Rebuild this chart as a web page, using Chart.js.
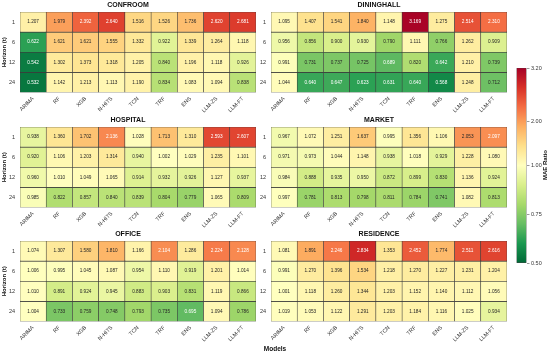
<!DOCTYPE html>
<html>
<head>
<meta charset="utf-8">
<script src="https://cdn.jsdelivr.net/npm/chart.js@4.4.1/dist/chart.umd.min.js"></script>
<style>
  body { margin: 0; background: #fff; width: 550px; height: 354px; position: relative; overflow: hidden;
         font-family: "Liberation Sans", Arial, sans-serif; }
  canvas { position: absolute; }
  .lbl { position: absolute; font-weight: bold; color: #111; white-space: nowrap; }
</style>
</head>
<body>
<canvas id="confroom" width="276" height="114" style="left:0;top:0"></canvas>
<canvas id="dininghall" width="276" height="114" style="left:251px;top:0"></canvas>
<canvas id="hospital" width="276" height="114" style="left:0;top:115px"></canvas>
<canvas id="market" width="276" height="114" style="left:251px;top:115px"></canvas>
<canvas id="office" width="276" height="114" style="left:0;top:229px"></canvas>
<canvas id="residence" width="276" height="114" style="left:251px;top:229px"></canvas>
<canvas id="cbar" width="39" height="212" style="left:511px;top:60px"></canvas>
<div class="lbl" style="left:275px;top:348px;font-size:6.5px;transform:translate(-50%,-50%)">Models</div>
<div class="lbl" style="left:545px;top:165px;font-size:6px;transform:translate(-50%,-50%) rotate(-90deg)">MAE Ratio</div>

<script>
const FONT = '"Liberation Sans", Arial, sans-serif';

const models = ["ARIMA", "RF", "XGB", "N-HiTS", "TCN", "TRF", "ENS", "LLM-ZS", "LLM-FT"];
const horizons = ["1", "6", "12", "24"];

// rows = horizons 1, 6, 12, 24
const confroom = [
    [1.207, 1.979, 2.392, 2.640, 1.516, 1.526, 1.736, 2.620, 2.681],
    [0.622, 1.621, 1.621, 1.555, 1.332, 0.922, 1.339, 1.264, 1.118],
    [0.542, 1.302, 1.373, 1.318, 1.205, 0.840, 1.196, 1.118, 0.926],
    [0.532, 1.142, 1.213, 1.113, 1.190, 0.834, 1.083, 1.094, 0.838]
];
const dininghall = [
    [1.095, 1.407, 1.541, 1.840, 1.148, 3.169, 1.275, 2.514, 2.310],
    [0.956, 0.856, 0.900, 0.930, 0.790, 1.111, 0.766, 1.262, 0.909],
    [0.991, 0.731, 0.737, 0.725, 0.689, 0.820, 0.642, 1.210, 0.739],
    [1.044, 0.640, 0.647, 0.623, 0.631, 0.640, 0.568, 1.248, 0.712]
];
const hospital = [
    [0.938, 1.360, 1.702, 2.136, 1.028, 1.713, 1.310, 2.593, 2.607],
    [0.920, 1.106, 1.203, 1.314, 0.940, 1.002, 1.029, 1.235, 1.101],
    [0.960, 1.010, 1.049, 1.065, 0.914, 0.932, 0.926, 1.127, 0.937],
    [0.985, 0.822, 0.857, 0.840, 0.839, 0.804, 0.779, 1.065, 0.809]
];
const market = [
    [0.967, 1.072, 1.251, 1.637, 0.995, 1.356, 1.106, 2.053, 2.097],
    [0.971, 0.973, 1.044, 1.148, 0.938, 1.018, 0.929, 1.228, 1.080],
    [0.984, 0.888, 0.935, 0.950, 0.872, 0.899, 0.830, 1.136, 0.924],
    [0.997, 0.781, 0.813, 0.798, 0.811, 0.784, 0.741, 1.082, 0.813]
];
const office = [
    [1.074, 1.307, 1.580, 1.810, 1.166, 2.104, 1.286, 2.224, 2.128],
    [1.006, 0.995, 1.045, 1.087, 0.954, 1.110, 0.919, 1.201, 1.014],
    [1.010, 0.891, 0.924, 0.945, 0.883, 0.903, 0.831, 1.119, 0.866],
    [1.004, 0.733, 0.759, 0.748, 0.793, 0.735, 0.695, 1.094, 0.786]
];
const residence = [
    [1.081, 1.891, 2.246, 2.834, 1.353, 2.452, 1.774, 2.511, 2.616],
    [0.991, 1.270, 1.396, 1.534, 1.218, 1.270, 1.227, 1.231, 1.204],
    [1.001, 1.118, 1.260, 1.344, 1.203, 1.152, 1.140, 1.112, 1.056],
    [1.019, 1.053, 1.122, 1.291, 1.203, 1.184, 1.116, 1.025, 0.934]
];

const cbarTicks = [0.5, 0.75, 1.0, 2.0, 3.2];
const cbarLabels = ["0.50", "0.75", "1.00", "2.00", "3.20"];
const vmin = 0.5, vcenter = 1.0, vmax = 3.2;

// RdYlGn reversed (green -> yellow -> red)
const cmapStops = ["#006837", "#1a9850", "#66bd63", "#a6d96a", "#d9ef8b", "#ffffbf",
                   "#fee08b", "#fdae61", "#f46d43", "#d73027", "#a50026"];

function hexToRgb(h) {
    return [parseInt(h.substr(1, 2), 16), parseInt(h.substr(3, 2), 16), parseInt(h.substr(5, 2), 16)];
}

// two-slope norm centred on 1.0
function norm(v) {
    let t = v < vcenter ? 0.5 * (v - vmin) / (vcenter - vmin)
                        : 0.5 + 0.5 * (v - vcenter) / (vmax - vcenter);
    return Math.max(0, Math.min(1, t));
}

function cmapRgb(t) {
    const p = t * (cmapStops.length - 1);
    const i = Math.min(Math.floor(p), cmapStops.length - 2);
    const f = p - i;
    const a = hexToRgb(cmapStops[i]), b = hexToRgb(cmapStops[i + 1]);
    return a.map((c, k) => Math.round(c + (b[k] - c) * f));
}

function cellColor(v) {
    const c = cmapRgb(norm(v));
    return `rgb(${c[0]},${c[1]},${c[2]})`;
}

function textColor(v) {
    const lum = cmapRgb(norm(v)).map(c => {
        c = c / 255;
        return c <= 0.03928 ? c / 12.92 : Math.pow((c + 0.055) / 1.055, 2.4);
    });
    const l = 0.2126 * lum[0] + 0.7152 * lum[1] + 0.0722 * lum[2];
    return l > 0.408 ? "#262626" : "#ffffff";
}

const cellLabels = {
    id: "cellLabels",
    afterDatasetsDraw(chart) {
        const ctx = chart.ctx;
        ctx.save();
        ctx.font = `4.7px ${FONT}`;
        ctx.textAlign = "center";
        ctx.textBaseline = "middle";
        chart.data.datasets.forEach((ds, i) => {
            chart.getDatasetMeta(i).data.forEach((bar, j) => {
                const p = bar.getCenterPoint();
                ctx.fillStyle = textColor(ds.vals[j]);
                ctx.fillText(ds.vals[j].toFixed(3), p.x, p.y);
            });
        });
        ctx.restore();
    }
};

function drawHeatmap(id, title, rows, showYTitle) {
    new Chart(document.getElementById(id), {
        type: "bar",
        data: {
            labels: models,
            datasets: rows.map((row, i) => ({
                data: row.map(() => [i, i + 1]),
                vals: row,
                backgroundColor: row.map(cellColor),
                borderColor: "#3c3c3c",
                borderWidth: 0.6,
                borderSkipped: false,
                barPercentage: 1,
                categoryPercentage: 1,
                grouped: false
            }))
        },
        options: {
            responsive: false,
            animation: false,
            events: [],
            // wide right padding keeps the title centred over the cells
            layout: { padding: { left: 0, right: 20, top: 0, bottom: 0 } },
            plugins: {
                legend: { display: false },
                tooltip: { enabled: false },
                title: {
                    display: true,
                    text: title,
                    color: "#111",
                    font: { family: FONT, size: 7, weight: "bold" },
                    padding: { top: 0.5, bottom: 3.1 }
                }
            },
            scales: {
                x: {
                    grid: { display: false, drawTicks: false },
                    border: { display: false },
                    ticks: {
                        color: "#333",
                        font: { family: FONT, size: 5.5 },
                        minRotation: 45,
                        maxRotation: 45,
                        autoSkip: false,
                        padding: 3
                    },
                    afterFit: s => { s.height = 21.5; }
                },
                y: {
                    min: 0,
                    max: 4,
                    reverse: true,
                    grid: { display: false, drawTicks: false },
                    border: { display: false },
                    afterBuildTicks: s => { s.ticks = horizons.map((h, i) => ({ value: i + 0.5 })); },
                    ticks: {
                        color: "#333",
                        font: { family: FONT, size: 5.5 },
                        padding: 5,
                        callback: (v, i) => horizons[i]
                    },
                    title: {
                        display: showYTitle,
                        text: "Horizon (t)",
                        color: "#111",
                        font: { family: FONT, size: 6, weight: "bold" },
                        padding: { top: 1, bottom: 0 }
                    },
                    afterFit: s => { s.width = 20; }
                }
            }
        },
        plugins: [cellLabels]
    });
}

drawHeatmap("confroom", "CONFROOM", confroom, true);
drawHeatmap("dininghall", "DININGHALL", dininghall, false);
drawHeatmap("hospital", "HOSPITAL", hospital, true);
drawHeatmap("market", "MARKET", market, false);
drawHeatmap("office", "OFFICE", office, true);
drawHeatmap("residence", "RESIDENCE", residence, false);

// colour bar
new Chart(document.getElementById("cbar"), {
    type: "bar",
    data: {
        labels: [""],
        datasets: [{
            data: [[0, 1]],
            backgroundColor: c => {
                const area = c.chart.chartArea;
                if (!area) return "#ffffbf";
                const g = c.chart.ctx.createLinearGradient(0, area.bottom, 0, area.top);
                cmapStops.forEach((col, i) => g.addColorStop(i / (cmapStops.length - 1), col));
                return g;
            },
            borderColor: "#444",
            borderWidth: 0.6,
            borderSkipped: false,
            barPercentage: 1,
            categoryPercentage: 1
        }]
    },
    options: {
        responsive: false,
        animation: false,
        events: [],
        layout: { padding: { left: 5.5, right: 0, top: 8, bottom: 9 } },
        plugins: { legend: { display: false }, tooltip: { enabled: false } },
        scales: {
            x: { display: false },
            y: {
                position: "right",
                min: 0,
                max: 1,
                afterBuildTicks: s => { s.ticks = cbarTicks.map(v => ({ value: norm(v) })); },
                ticks: {
                    color: "#333",
                    font: { family: FONT, size: 5.5 },
                    padding: 1.5,
                    callback: (v, i) => cbarLabels[i]
                },
                grid: { drawOnChartArea: false, drawTicks: true, tickLength: 3, color: "#555", lineWidth: 0.6 },
                border: { display: false },
                afterFit: s => { s.width = 23.5; }
            }
        }
    }
});
</script>
</body>
</html>
